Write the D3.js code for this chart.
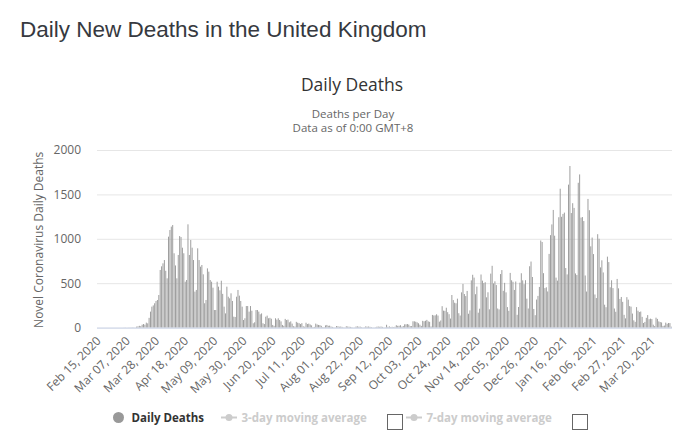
<!DOCTYPE html>
<html>
<head>
<meta charset="utf-8">
<script src="https://cdn.jsdelivr.net/npm/d3@7"></script>
<style>
  body { margin: 0; background: #fff; }
  svg { display: block; }
</style>
</head>
<body>
<div id="chart"></div>
<script>
// daily deaths, one array per month (first day: Feb 15, 2020)
const DEATHS_FEB_2020 = [0,0,0,0,0,0,0,0,0,0,0,0,0,0,0];
const DEATHS_MAR_2020 = [0,0,0,0,1,1,0,1,1,2,2,2,1,11,14,20,16,33,40,33,56,48,110,180,236,250,274,300,311,367,649];
const DEATHS_APR_2020 = [690,724,761,640,555,1024,1099,1137,1155,837,700,555,818,1031,1020,900,837,517,536,1163,818,987,900,761,405,424,893,761,686,705];
const DEATHS_MAY_2020 = [600,274,311,667,630,536,517,450,198,198,517,461,420,528,380,236,160,461,348,330,386,300,123,120,348,424,360,300,236,86,105];
const DEATHS_JUN_2020 = [243,243,180,243,190,49,60,198,198,180,150,160,49,40,123,135,105,110,100,30,20,105,90,105,86,70,30,20,98,85];
const DEATHS_JUL_2020 = [90,60,70,45,15,12,65,55,50,40,50,15,10,55,40,45,35,25,5,8,45,35,30,28,20,5,5,25,30,20,22];
const DEATHS_AUG_2020 = [12,8,3,2,18,15,10,12,8,2,3,15,12,10,8,5,1,2,12,14,10,11,5,2,3,14,10,12,9,6,1];
const DEATHS_SEP_2020 = [2,3,10,12,9,12,8,2,3,32,8,14,6,9,5,9,27,20,21,27,11,18,37,37,40,34,17,17,71,71];
const DEATHS_OCT_2020 = [66,59,49,33,19,76,71,77,87,70,65,13,143,137,138,150,136,67,80,241,191,189,224,174,151,102,367,310,280,274,326];
const DEATHS_NOV_2020 = [162,136,397,492,378,355,413,156,194,532,595,563,376,462,168,213,598,529,501,511,341,398,206,608,696,498,521,479,215,205];
const DEATHS_DEC_2020 = [603,648,414,504,397,231,189,616,533,516,424,519,144,232,506,612,532,489,534,326,215,691,744,570,210,140,316,357,458,981,964];
const DEATHS_JAN_2021 = [613,445,454,407,830,1041,1162,1325,1035,563,529,1243,1564,1248,1280,1295,671,599,1610,1820,1290,1401,1348,610,592,1631,1725,1239,1245,1200,587];
const DEATHS_FEB_2021 = [406,1449,1322,915,1014,828,373,333,1052,1001,678,758,621,258,230,799,738,454,533,445,215,178,548,442,323,345,290,144];
const DEATHS_MAR_2021 = [104,343,315,242,236,158,82,65,231,190,175,181,121,52,64,110,141,95,101,96,33,17,112,98,70,63,58,19,23,56,43];
const DEATHS_APR_2021 = [52,51,10];

const TICK_LABELS = ['Feb 15, 2020','Mar 07, 2020','Mar 28, 2020','Apr 18, 2020','May 09, 2020','May 30, 2020',
  'Jun 20, 2020','Jul 11, 2020','Aug 01, 2020','Aug 22, 2020','Sep 12, 2020','Oct 03, 2020','Oct 24, 2020',
  'Nov 14, 2020','Dec 05, 2020','Dec 26, 2020','Jan 16, 2021','Feb 06, 2021','Feb 27, 2021','Mar 20, 2021'];
const Y_TICKS = [0, 500, 1000, 1500, 2000];

const PAGE_TITLE = 'Daily New Deaths in the United Kingdom';
const CHART_TITLE = 'Daily Deaths';
const SUBTITLE = ['Deaths per Day', 'Data as of 0:00 GMT+8'];
const Y_LABEL = 'Novel Coronavirus Daily Deaths';
const AVERAGES = ['3-day moving average', '7-day moving average'];

const WIDTH = 700, HEIGHT = 447;
const PLOT = { left: 97, right: 672, top: 150, bottom: 327.6 };
const FONT = '"Open Sans", sans-serif';

const deaths = [].concat(DEATHS_FEB_2020, DEATHS_MAR_2020, DEATHS_APR_2020, DEATHS_MAY_2020, DEATHS_JUN_2020,
  DEATHS_JUL_2020, DEATHS_AUG_2020, DEATHS_SEP_2020, DEATHS_OCT_2020, DEATHS_NOV_2020, DEATHS_DEC_2020,
  DEATHS_JAN_2021, DEATHS_FEB_2021, DEATHS_MAR_2021, DEATHS_APR_2021);

const fmt = d3.timeFormat('%b %d, %Y');
const start = new Date(2020, 1, 15);
const data = deaths.map((v, i) => ({ date: fmt(d3.timeDay.offset(start, i)), value: v }));

const svg = d3.select('#chart')
  .append('svg')
    .attr('width', WIDTH)
    .attr('height', HEIGHT);

svg.append('text')
  .attr('x', 20)
  .attr('y', 37)
  .attr('font-family', '"Liberation Sans", Arial, sans-serif')
  .attr('font-size', '22.5px')
  .attr('fill', '#363940')
  .text(PAGE_TITLE);

svg.append('text')
  .attr('x', 352)
  .attr('y', 91)
  .attr('text-anchor', 'middle')
  .attr('font-family', FONT)
  .attr('font-size', '17.5px')
  .attr('fill', '#333')
  .text(CHART_TITLE);

svg.selectAll('.subtitle')
  .data(SUBTITLE)
  .enter()
  .append('text')
    .attr('class', 'subtitle')
    .attr('x', 353)
    .attr('y', (d, i) => 117.5 + i * 14.5)
    .attr('text-anchor', 'middle')
    .attr('font-family', FONT)
    .attr('font-size', '11.5px')
    .attr('fill', '#666')
    .text(d => d);

const x = d3.scaleBand()
  .domain(data.map(d => d.date))
  .range([PLOT.left, PLOT.right])
  .paddingInner(0.3)
  .paddingOuter(0.15);

const y = d3.scaleLinear()
  .domain([0, 2000])
  .range([PLOT.bottom, PLOT.top]);

// gridlines + y labels
const yAxis = d3.axisLeft(y)
  .tickValues(Y_TICKS)
  .tickFormat(d3.format('d'))
  .tickSize(-(PLOT.right - PLOT.left))
  .tickPadding(16);

svg.append('g')
  .attr('transform', `translate(${PLOT.left}, 0)`)
  .call(yAxis)
  .call(g => g.select('.domain').remove())
  .call(g => g.selectAll('line').attr('stroke', '#e6e6e6'))
  .call(g => g.selectAll('text')
    .attr('font-family', FONT)
    .attr('font-size', '12px')
    .attr('fill', '#666'));

svg.append('text')
  .attr('transform', `translate(43, ${(PLOT.top + PLOT.bottom) / 2 + 1}) rotate(-90)`)
  .attr('text-anchor', 'middle')
  .attr('font-family', FONT)
  .attr('font-size', '12px')
  .attr('fill', '#666')
  .text(Y_LABEL);

// bars
svg.append('g')
  .selectAll('rect')
  .data(data)
  .enter()
  .append('rect')
    .attr('x', d => x(d.date))
    .attr('width', x.bandwidth())
    .attr('y', d => y(d.value))
    .attr('height', d => y(0) - y(d.value))
    .attr('fill', '#9c9c9c');

// x axis
const xAxis = d3.axisBottom(x)
  .tickValues(TICK_LABELS)
  .tickSize(0);

svg.append('g')
  .attr('transform', `translate(0, ${PLOT.bottom})`)
  .call(xAxis)
  .call(g => g.select('.domain').remove())
  .call(g => g.selectAll('text')
    .attr('y', 0)
    .attr('dy', 0)
    .attr('transform', 'translate(4, 14) rotate(-45)')
    .attr('text-anchor', 'end')
    .attr('font-family', FONT)
    .attr('font-size', '12px')
    .attr('fill', '#666'));

svg.append('line')
  .attr('x1', PLOT.left)
  .attr('x2', PLOT.right)
  .attr('y1', PLOT.bottom + 0.5)
  .attr('y2', PLOT.bottom + 0.5)
  .attr('stroke', '#ccd6eb');

// legend
const legend = svg.append('g')
  .attr('font-family', FONT)
  .attr('font-size', '11.5px')
  .attr('font-weight', 'bold');

legend.append('circle')
  .attr('cx', 118.5)
  .attr('cy', 417.5)
  .attr('r', 5.5)
  .attr('fill', '#999');

legend.append('text')
  .attr('x', 131.5)
  .attr('y', 421.5)
  .attr('fill', '#333')
  .text(CHART_TITLE);

AVERAGES.forEach((label, i) => {
  const x0 = 221 + i * 185;
  legend.append('line')
    .attr('x1', x0).attr('x2', x0 + 16)
    .attr('y1', 417.5).attr('y2', 417.5)
    .attr('stroke', '#ccc')
    .attr('stroke-width', 2);
  legend.append('circle')
    .attr('cx', x0 + 8)
    .attr('cy', 417.5)
    .attr('r', 3.5)
    .attr('fill', '#ccc');
  legend.append('text')
    .attr('x', x0 + 20.5)
    .attr('y', 421.5)
    .attr('fill', '#ccc')
    .text(label);
  legend.append('rect')
    .attr('x', 387.5 + i * 185)
    .attr('y', 414.5)
    .attr('width', 15)
    .attr('height', 15)
    .attr('fill', '#fff')
    .attr('stroke', '#666');
});
</script>
</body>
</html>
